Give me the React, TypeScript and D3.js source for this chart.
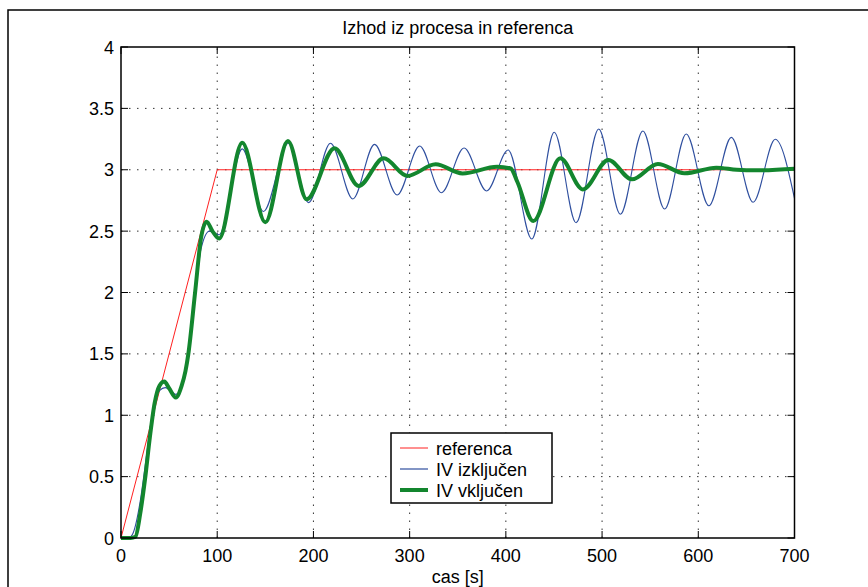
import React from "react";
import * as d3 from "d3";

const title = "Izhod iz procesa in referenca";
const xLabel = "cas [s]";
const xTicks = [0, 100, 200, 300, 400, 500, 600, 700];
const yTicks = [0, 0.5, 1, 1.5, 2, 2.5, 3, 3.5, 4];
const yTickLabels = ["0", "0.5", "1", "1.5", "2", "2.5", "3", "3.5", "4"];

const legendLabels = ["referenca", "IV izključen", "IV vključen"];

const refT = [0, 100, 700];
const refV = [0, 3, 3];

const offT = [0, 8, 12, 20, 25, 30, 35, 40, 46, 52, 57, 63, 67, 70, 77, 83, 92, 102, 126, 148, 174, 195, 217.7, 241, 263.5, 287, 310.4, 333, 356.6, 380, 402.4, 427, 450.3, 473, 496.5, 519, 542.4, 565, 587.5, 611, 634.4, 657, 680, 700];
const offV = [0, 0, 0.03, 0.3, 0.58, 0.88, 1.1, 1.2, 1.225, 1.2, 1.17, 1.23, 1.34, 1.48, 1.96, 2.35, 2.5, 2.47, 3.17, 2.66, 3.216, 2.732, 3.216, 2.762, 3.207, 2.794, 3.194, 2.813, 3.177, 2.827, 3.161, 2.436, 3.305, 2.569, 3.332, 2.637, 3.316, 2.68, 3.291, 2.707, 3.264, 2.735, 3.248, 2.767];

const onT = [0, 10, 15, 20, 25, 30, 35, 40, 45, 50, 57, 63, 67, 70, 77, 83.3, 89, 95, 102, 126, 150, 173.5, 193, 222, 247, 273, 297.6, 327, 355, 391, 405, 412, 428.5, 456.6, 480, 506.6, 531, 558, 585.7, 618.8, 640, 660, 700];
const onV = [0, 0, 0.01, 0.2, 0.48, 0.82, 1.1, 1.24, 1.275, 1.22, 1.145, 1.24, 1.36, 1.5, 2.0, 2.45, 2.577, 2.5, 2.44, 3.22, 2.572, 3.234, 2.76, 3.175, 2.868, 3.093, 2.95, 3.044, 2.97, 3.025, 3.01, 2.9, 2.582, 3.093, 2.84, 3.08, 2.922, 3.047, 2.971, 3.017, 3.0, 2.995, 3.009];

const FONT = "'Liberation Sans', Arial, Helvetica, sans-serif";
const RED = "#ff2020";
const BLUE = "#2f4f9f";
const GREEN = "#13862e";
const FS = 18;

export default function App() {
  const x = d3.scaleLinear().domain([0, 700]).range([121, 794.5]);
  const y = d3.scaleLinear().domain([0, 4]).range([538, 47]);
  const line = d3
    .line<[number, number]>()
    .x((d) => x(d[0]))
    .y((d) => y(d[1]))
    .curve(d3.curveMonotoneX);
  const zip = (t: number[], v: number[]) => t.map((ti, i) => [ti, v[i]] as [number, number]);
  const refPath = d3.line<[number, number]>().x((d) => x(d[0])).y((d) => y(d[1]))(zip(refT, refV)) || "";
  const offPath = line(zip(offT, offV)) || "";
  const onPath = line(zip(onT, onV)) || "";
  const [x0, x1] = x.range();
  const [y0, y1] = y.range();
  const tl = 7;
  const legendColors = [RED, BLUE, GREEN];
  const legendWidths = [1, 1.2, 4];

  return (
    <svg
      width={868}
      height={587}
      style={{ position: "absolute", left: 0, top: 0, background: "#fff" }}
      fontFamily={FONT}
    >
      <rect x={0} y={0} width={868} height={587} fill="#fff" />
      <rect x={8} y={10} width={900} height={700} fill="none" stroke="#000" strokeWidth={1.5} />
      <rect x={x0} y={y1} width={x1 - x0} height={y0 - y1} fill="#fff" />
      {/* grid */}
      {xTicks.slice(1, -1).map((t) => (
        <line key={"gx" + t} x1={x(t)} x2={x(t)} y1={y0} y2={y1} stroke="#333" strokeWidth={1} strokeDasharray="1.5 6.5" />
      ))}
      {yTicks.slice(1, -1).map((t) => (
        <line key={"gy" + t} x1={x0} x2={x1} y1={y(t)} y2={y(t)} stroke="#333" strokeWidth={1} strokeDasharray="1.5 6.5" />
      ))}
      {/* ticks */}
      {xTicks.map((t) => (
        <g key={"tx" + t}>
          <line x1={x(t)} x2={x(t)} y1={y0} y2={y0 - tl} stroke="#000" />
          <line x1={x(t)} x2={x(t)} y1={y1} y2={y1 + tl} stroke="#000" />
          <text x={x(t)} y={562} fontSize={FS} textAnchor="middle" fill="#000">
            {t}
          </text>
        </g>
      ))}
      {yTicks.map((t, i) => (
        <g key={"ty" + t}>
          <line x1={x0} x2={x0 + tl} y1={y(t)} y2={y(t)} stroke="#000" />
          <line x1={x1} x2={x1 - tl} y1={y(t)} y2={y(t)} stroke="#000" />
          <text x={114} y={y(t) + 6.5} fontSize={FS} textAnchor="end" fill="#000">
            {yTickLabels[i]}
          </text>
        </g>
      ))}
      {/* data */}
      <path d={refPath} fill="none" stroke={RED} strokeWidth={1} />
      <path d={offPath} fill="none" stroke={BLUE} strokeWidth={1.1} />
      <path d={onPath} fill="none" stroke={GREEN} strokeWidth={4} strokeLinejoin="round" />
      {/* axes box */}
      <rect x={x0} y={y1} width={x1 - x0} height={y0 - y1} fill="none" stroke="#000" strokeWidth={1.5} />
      {/* title & label */}
      <text x={(x0 + x1) / 2} y={34} fontSize={FS} textAnchor="middle" fill="#000">
        {title}
      </text>
      <text x={(x0 + x1) / 2} y={583} fontSize={FS} textAnchor="middle" fill="#000">
        {xLabel}
      </text>
      {/* legend */}
      <rect x={391} y={433} width={161} height={70} fill="#fff" stroke="#000" strokeWidth={1.5} />
      {legendLabels.map((l, i) => (
        <g key={l}>
          <line x1={400} x2={428} y1={448 + i * 21} y2={448 + i * 21} stroke={legendColors[i]} strokeWidth={legendWidths[i]} />
          <text x={436} y={448 + i * 21 + 6.5} fontSize={FS} fill="#000">
            {l}
          </text>
        </g>
      ))}
    </svg>
  );
}
